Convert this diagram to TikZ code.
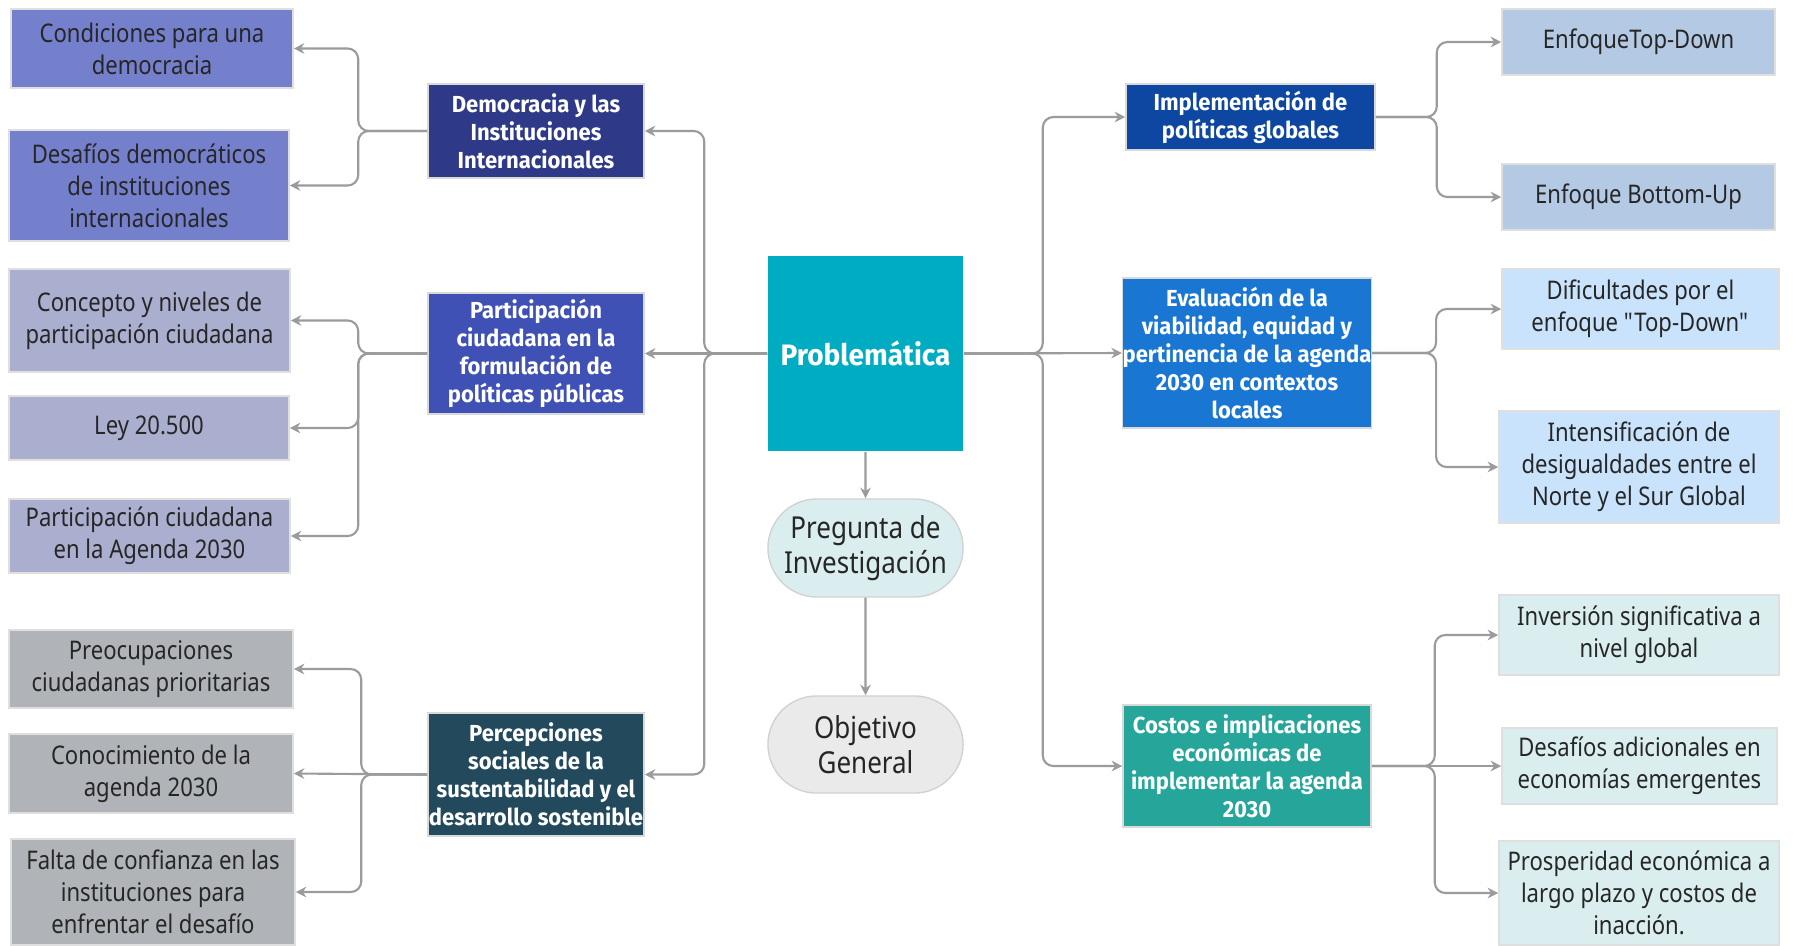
\documentclass[tikz,border=0pt]{standalone}
\usepackage{fontspec}
\setmainfont{Noto Sans}[FakeStretch=0.86]
\newfontfamily\boldsans{Fira Sans}[FakeStretch=0.95]
\usepackage{tikz}
\usetikzlibrary{arrows.meta,shapes.misc}
\usepackage{xcolor}

\definecolor{demoLeaf}{RGB}{116,128,204}
\definecolor{demoMain}{RGB}{46,58,135}
\definecolor{partLeaf}{RGB}{170,175,207}
\definecolor{partMain}{RGB}{63,81,181}
\definecolor{percLeaf}{RGB}{176,180,184}
\definecolor{percMain}{RGB}{35,74,92}
\definecolor{probMain}{RGB}{0,172,193}
\definecolor{pregFill}{RGB}{219,238,239}
\definecolor{objFill}{RGB}{234,234,234}
\definecolor{implMain}{RGB}{13,71,161}
\definecolor{evalMain}{RGB}{25,118,210}
\definecolor{costMain}{RGB}{38,166,154}
\definecolor{implLeaf}{RGB}{179,201,228}
\definecolor{evalLeaf}{RGB}{200,227,251}
\definecolor{costLeaf}{RGB}{219,238,239}
\definecolor{linkGray}{RGB}{155,155,155}

\begin{document}
\begin{tikzpicture}[x=0.01cm, y=-0.01cm,
    leaf/.style = {draw=white!75!gray, line width=0.4pt, inner sep=0pt, align=center, text=black!85,
                   font=\fontsize{7.3}{9.1}\selectfont},
    topic/.style = {draw=white!70!gray, line width=0.4pt, inner sep=0pt, align=center, text=white,
                    font=\boldsans\bfseries\fontsize{6.6}{8}\selectfont},
    core/.style = {inner sep=0pt, align=center, text=white, font=\boldsans\bfseries\fontsize{8.4}{10}\selectfont},
    pill/.style = {rounded rectangle, draw=white!65!gray, line width=0.4pt, inner sep=0pt, align=center,
                   text=black!85, font=\fontsize{8.6}{10.1}\selectfont},
    link/.style = {draw=linkGray, line width=0.6pt, rounded corners=3pt, -{Stealth[length=3pt,width=3pt]}}]

    \useasboundingbox (0,0) rectangle (1800,945);

    % centro
    \node[core, fill=probMain, minimum width=1.95cm, minimum height=1.95cm] (prob) at (865.5,353.5) {Problemática};
    \node[pill, fill=pregFill, minimum width=1.95cm, minimum height=0.98cm] (preg) at (865.5,548) {Pregunta de\\Investigación};
    \node[pill, fill=objFill, minimum width=1.95cm, minimum height=0.97cm] (obj) at (865.5,744.5) {Objetivo\\General};

    % lado izquierdo
    \node[topic, fill=demoMain, minimum width=2.16cm, minimum height=0.94cm] (demo) at (536,131) {Democracia y las\\Instituciones\\Internacionales};
    \node[topic, fill=partMain, minimum width=2.16cm, minimum height=1.21cm] (part) at (536,353.5) {Participación\\ciudadana en la\\formulación de\\políticas públicas};
    \node[topic, fill=percMain, minimum width=2.16cm, minimum height=1.23cm] (perc) at (536,774.5) {Percepciones\\sociales de la\\sustentabilidad y el\\desarrollo sostenible};

    \node[leaf, fill=demoLeaf, minimum width=2.82cm, minimum height=0.79cm] (cond) at (152,48.5) {Condiciones para una\\democracia};
    \node[leaf, fill=demoLeaf, minimum width=2.80cm, minimum height=1.11cm] (desafDem) at (149,185.5) {Desafíos democráticos\\de instituciones\\internacionales};
    \node[leaf, fill=partLeaf, minimum width=2.81cm, minimum height=1.03cm] (conc) at (149.5,320.5) {Concepto y niveles de\\participación ciudadana};
    \node[leaf, fill=partLeaf, minimum width=2.80cm, minimum height=0.64cm] (ley) at (149,428) {Ley 20.500};
    \node[leaf, fill=partLeaf, minimum width=2.81cm, minimum height=0.74cm] (partAg) at (149.5,536) {Participación ciudadana\\en la Agenda 2030};
    \node[leaf, fill=percLeaf, minimum width=2.84cm, minimum height=0.78cm] (preoc) at (151,669) {Preocupaciones\\ciudadanas prioritarias};
    \node[leaf, fill=percLeaf, minimum width=2.84cm, minimum height=0.79cm] (conoc) at (151,773.5) {Conocimiento de la\\agenda 2030};
    \node[leaf, fill=percLeaf, minimum width=2.84cm, minimum height=1.06cm] (falta) at (153,892) {Falta de confianza en las\\instituciones para\\enfrentar el desafío};

    % lado derecho
    \node[topic, fill=implMain, minimum width=2.49cm, minimum height=0.66cm] (impl) at (1250.5,117) {Implementación de\\políticas globales};
    \node[topic, fill=evalMain, minimum width=2.48cm, minimum height=1.50cm] (eval) at (1247,353) {Evaluación de la\\viabilidad, equidad y\\pertinencia de la agenda\\2030 en contextos\\locales};
    \node[topic, fill=costMain, minimum width=2.48cm, minimum height=1.22cm] (cost) at (1247,766) {Costos e implicaciones\\económicas de\\implementar la agenda\\2030};

    \node[leaf, fill=implLeaf, minimum width=2.73cm, minimum height=0.66cm] (topDown) at (1638.5,42) {EnfoqueTop-Down};
    \node[leaf, fill=implLeaf, minimum width=2.73cm, minimum height=0.66cm] (botUp) at (1638.5,197) {Enfoque Bottom-Up};
    \node[leaf, fill=evalLeaf, minimum width=2.77cm, minimum height=0.80cm] (dific) at (1640.5,309) {Dificultades por el\\enfoque \textquotedbl Top-Down\textquotedbl};
    \node[leaf, fill=evalLeaf, minimum width=2.80cm, minimum height=1.12cm] (intens) at (1639,467) {Intensificación de\\desigualdades entre el\\Norte y el Sur Global};
    \node[leaf, fill=costLeaf, minimum width=2.80cm, minimum height=0.80cm] (inver) at (1639,635) {Inversión significativa a\\nivel global};
    \node[leaf, fill=costLeaf, minimum width=2.75cm, minimum height=0.76cm] (desafAd) at (1639.5,766) {Desafíos adicionales en\\economías emergentes};
    \node[leaf, fill=costLeaf, minimum width=2.80cm, minimum height=1.04cm] (prosp) at (1639,893) {Prosperidad económica a\\largo plazo y costos de\\inacción.};

    % conexiones centro
    \draw[link] (prob) -- (preg);
    \draw[link] (preg) -- (obj);

    \draw[link] (prob.west) -- ++(-63,0) |- (demo.east);
    \draw[link] (prob.west) -- (part.east);
    \draw[link] (prob.west) -- ++(-63,0) |- (perc.east);

    \draw[link] (prob.east) -- ++(79,0) |- (impl.west);
    \draw[link] (prob.east) -- (eval.west);
    \draw[link] (prob.east) -- ++(79,0) |- (cost.west);

    % conexiones izquierda
    \draw[link] (demo.west) -- ++(-69,0) |- (cond.east);
    \draw[link] (demo.west) -- ++(-69,0) |- (desafDem.east);

    \draw[link] (part.west) -- ++(-69,0) |- (conc.east);
    \draw[link] (part.west) -- ++(-69,0) |- (ley.east);
    \draw[link] (part.west) -- ++(-69,0) |- (partAg.east);

    \draw[link] (perc.west) -- ++(-66,0) |- (preoc.east);
    \draw[link] (perc.west) -- (conoc.east);
    \draw[link] (perc.west) -- ++(-66,0) |- (falta.east);

    % conexiones derecha
    \draw[link] (impl.east) -- ++(61,0) |- (topDown.west);
    \draw[link] (impl.east) -- ++(61,0) |- (botUp.west);

    \draw[link] (eval.east) -- ++(64,0) |- (dific.west);
    \draw[link] (eval.east) -- ++(64,0) |- (intens.west);

    \draw[link] (cost.east) -- ++(63,0) |- (inver.west);
    \draw[link] (cost.east) -- (desafAd.west);
    \draw[link] (cost.east) -- ++(63,0) |- (prosp.west);
\end{tikzpicture}
\end{document}
